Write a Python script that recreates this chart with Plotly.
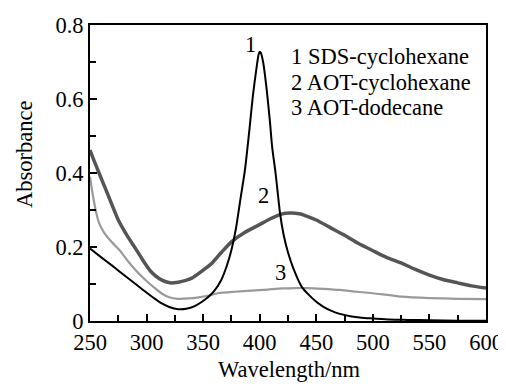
import plotly.graph_objects as go

# Curve 1: SDS-cyclohexane
w1 = [250, 260, 269, 276, 284, 292, 299, 306, 313, 320, 328, 335, 343, 349, 355, 360, 366, 371, 375, 379,
      383, 387, 391, 394, 397, 399, 400, 401, 403, 406, 409, 411, 414, 418, 421, 425, 430, 437, 443, 450,
      456, 463, 470, 480, 490, 500, 515, 530, 550, 575, 600]
a1 = [0.196, 0.172, 0.151, 0.134, 0.115, 0.096, 0.079, 0.063, 0.048, 0.038, 0.032, 0.033, 0.041, 0.052, 0.066, 0.082, 0.111, 0.15, 0.192, 0.25,
      0.33, 0.41, 0.52, 0.61, 0.68, 0.72, 0.728, 0.725, 0.7, 0.63, 0.54, 0.47, 0.40, 0.29, 0.235, 0.185, 0.14, 0.093, 0.072, 0.052,
      0.039, 0.028, 0.02, 0.013, 0.009, 0.007, 0.004, 0.003, 0.002, 0.001, 0.001]

# Curve 2: AOT-cyclohexane
w2 = [250, 254, 258, 262, 266, 270, 275, 282, 290, 297, 304, 311, 317, 322, 328, 334, 340, 348, 358, 366,
      375, 386, 399, 410, 419, 427, 435, 442, 450, 462, 475, 487, 500, 512, 525, 537, 550, 562, 575, 587, 600]
a2 = [0.462, 0.43, 0.40, 0.37, 0.34, 0.31, 0.273, 0.235, 0.197, 0.163, 0.133, 0.115, 0.106, 0.103, 0.105, 0.109, 0.116, 0.133, 0.157, 0.185,
      0.214, 0.238, 0.259, 0.277, 0.289, 0.292, 0.29, 0.283, 0.273, 0.253, 0.232, 0.21, 0.19, 0.172, 0.157, 0.14, 0.124, 0.112, 0.103, 0.095, 0.089]

# Curve 3: AOT-dodecane
w3 = [250, 252, 255, 258, 262, 269, 276, 284, 291, 299, 306, 313, 320, 328, 337, 346, 355, 363, 378, 393,
      407, 420, 432, 442, 456, 471, 486, 500, 525, 550, 575, 600]
a3 = [0.39, 0.35, 0.30, 0.265, 0.241, 0.214, 0.192, 0.16, 0.135, 0.111, 0.092, 0.075, 0.064, 0.06, 0.061, 0.064, 0.069, 0.075, 0.079, 0.082,
      0.085, 0.088, 0.089, 0.089, 0.087, 0.084, 0.079, 0.075, 0.066, 0.062, 0.06, 0.059]

legend_lines = ["1 SDS-cyclohexane", "2 AOT-cyclohexane", "3 AOT-dodecane"]
x_ticks = [250, 300, 350, 400, 450, 500, 550, 600]
y_ticks = [0, 0.2, 0.4, 0.6, 0.8]
y_tick_text = ["0", "0.2", "0.4", "0.6", "0.8"]

FONT = "Liberation Serif, Times New Roman, serif"
FS = 22.5

fig = go.Figure()
fig.add_trace(go.Scatter(x=w3, y=a3, mode="lines", line=dict(color="#9a9a9a", width=2.2, shape="spline", smoothing=0.6)))
fig.add_trace(go.Scatter(x=w2, y=a2, mode="lines", line=dict(color="#555555", width=3.5, shape="spline", smoothing=0.6)))
fig.add_trace(go.Scatter(x=w1, y=a1, mode="lines", line=dict(color="#000000", width=2, shape="spline", smoothing=0.6)))

# target pixel layout in the 506x388 window; page body has an 8px margin
OFF = 8
L, R, T, B = 90, 486, 25, 321
W, H = 506, 388

def px(x):
    return (x - L) / (R - L)

def py(y):
    return (B - y) / (B - T)

annots = []
for i, t in enumerate(legend_lines):
    annots.append(dict(text=t, x=px(289), y=py([56, 82, 108][i]), xref="paper", yref="paper",
                       xanchor="left", yanchor="middle", showarrow=False,
                       font=dict(family=FONT, size=FS, color="black")))
for t, (xx, yy) in zip(["1", "2", "3"], [(250, 45), (263, 195), (280, 272)]):
    annots.append(dict(text=t, x=px(xx), y=py(yy), xref="paper", yref="paper",
                       xanchor="center", yanchor="middle", showarrow=False,
                       font=dict(family=FONT, size=FS, color="black")))
annots.append(dict(text="Absorbance", x=px(24), y=py(155), xref="paper", yref="paper",
                   xanchor="center", yanchor="middle", textangle=-90, showarrow=False,
                   font=dict(family=FONT, size=FS, color="black")))
annots.append(dict(text="Wavelength/nm", x=px(289), y=py(369), xref="paper", yref="paper",
                   xanchor="center", yanchor="middle", showarrow=False,
                   font=dict(family=FONT, size=FS, color="black")))

fig.update_layout(
    width=W, height=H - OFF,
    margin=dict(l=L - OFF, r=W + OFF - R, t=T - OFF, b=H - B, autoexpand=False),
    paper_bgcolor="white", plot_bgcolor="white",
    showlegend=False,
    font=dict(family=FONT, size=FS, color="black"),
    annotations=annots,
)
fig.update_xaxes(range=[250, 600], tickvals=x_ticks, ticks="inside", ticklen=7, tickwidth=1.5,
                 tickcolor="black", showline=True, linecolor="black", linewidth=1.8, mirror=True,
                 showgrid=False, zeroline=False, automargin=False,
                 minor=dict(dtick=25, tick0=250, ticks="inside", ticklen=6, tickwidth=1.5, tickcolor="black", showgrid=False),
                 tickfont=dict(family=FONT, size=FS, color="black"))
fig.update_yaxes(range=[0, 0.8], tickvals=y_ticks, ticktext=y_tick_text, ticks="inside", ticklen=7, tickwidth=1.5,
                 tickcolor="black", showline=True, linecolor="black", linewidth=1.8, mirror=True,
                 showgrid=False, zeroline=False, automargin=False,
                 minor=dict(dtick=0.1, tick0=0, ticks="inside", ticklen=6, tickwidth=1.5, tickcolor="black", showgrid=False),
                 tickfont=dict(family=FONT, size=FS, color="black"))

fig.write_html("out.html")
